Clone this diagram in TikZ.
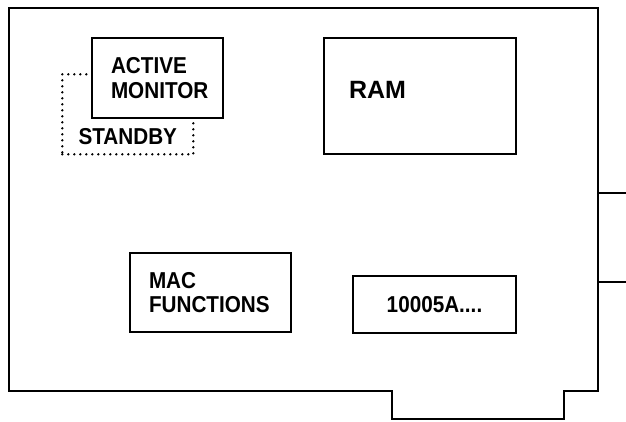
\documentclass[tikz,border=0pt]{standalone}
\usepackage{fontspec}
\setmainfont{Liberation Sans}
\newfontfamily\tallsans[FakeStretch=0.9]{Liberation Sans}
\usepackage{tikz}
\usetikzlibrary{positioning}

\begin{document}
\begin{tikzpicture}[
  x=1pt, y=-1pt,
  board/.style={draw, line width=2.2pt, line join=miter},
  chipbox/.style={draw, line width=2pt, fill=white, anchor=north west,
                  inner ysep=0pt, font=\tallsans\bfseries\fontsize{23}{24.5}\selectfont},
  dotbox/.style={draw, line width=2.6pt, dash pattern=on 0pt off 6pt,
                 line cap=round, anchor=north west, inner sep=0pt},
  lbl/.style={inner sep=0pt, font=\tallsans\bfseries\fontsize{23}{24.5}\selectfont},
]
  \useasboundingbox (0,0) rectangle (626,421);

  % Board outline with edge connector
  \draw[board] (9,8) -- (598,8) -- (598,391) -- (564,391) -- (564,419)
               -- (392,419) -- (392,391) -- (9,391) -- cycle;
  \draw[board] (598,193) -- (626,193);
  \draw[board] (598,282) -- (626,282);

  % Standby monitor (behind)
  \node[dotbox, minimum width=131pt, minimum height=80pt] (stby) at (61,73) {};
  \node[lbl, above=11pt of stby.south] {STANDBY};

  % Chips
  \node[chipbox, text width=93pt, inner xsep=19pt, minimum height=80pt,
        align=left] (act) at (91,37) {ACTIVE\\MONITOR};
  \node[chipbox, text width=142pt, inner xsep=25pt, minimum height=116pt,
        align=left, text depth=13pt, font=\rmfamily\bfseries\fontsize{25}{28}\selectfont]
        (ram) at (323,37) {RAM};
  \node[chipbox, text width=123pt, inner xsep=19pt, minimum height=79pt,
        align=left] (mac) at (129,252) {MAC\\FUNCTIONS};
  \node[chipbox, inner xsep=0pt, minimum width=163pt, minimum height=57pt]
        (rom) at (352,275) {10005A....};
\end{tikzpicture}
\end{document}
